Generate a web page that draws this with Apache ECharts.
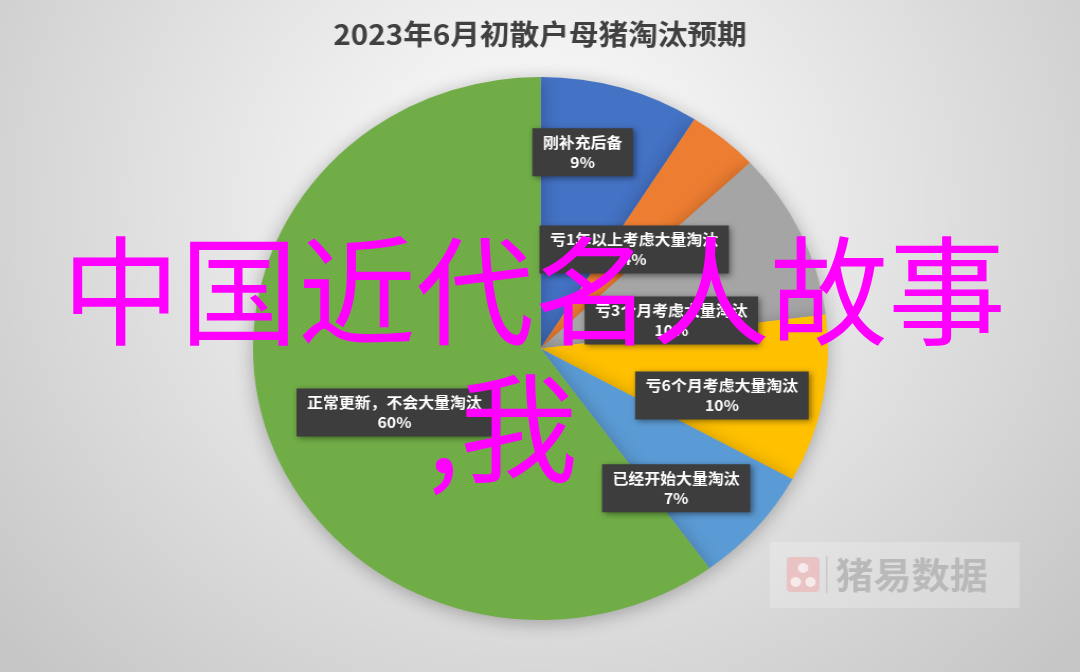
<!DOCTYPE html>
<html>
<head>
<meta charset="utf-8">
<style>
html,body{margin:0;padding:0;background:#fff;overflow:hidden;}
#wrap{position:relative;width:1080px;height:672px;overflow:hidden;}
#chart{position:absolute;left:0;top:0;width:1020px;height:672px;transform:scaleX(1.0588);transform-origin:0 0;}
#overlay{position:absolute;left:0;top:0;width:1080px;height:672px;pointer-events:none;}
</style>
<script src="https://cdn.jsdelivr.net/npm/echarts@6/dist/echarts.min.js"></script>
</head>
<body>
<div id="wrap"><div id="chart"></div><div id="overlay"></div></div>
<script>
// ---- data ----
var titleText = '2023年6月初散户母猪淘汰预期';
var categories = ['刚补充后备', '亏1年以上考虑大量淘汰', '亏3个月考虑大量淘汰', '亏6个月考虑大量淘汰', '已经开始大量淘汰', '正常更新，不会大量淘汰'];
var values = [9, 4, 10, 10, 7, 60];
var overlayLine1 = '中国近代名人故事';
var overlayLine2 = ',我';
var watermarkText = '猪易数据';

// ---- style / layout ----
var colors = ['#4472C4', '#ED7D31', '#A5A5A5', '#FFC000', '#5B9BD5', '#70AD47'];
var labelShift = [[1, -63], [0, 8], [-2, 31], [35, 21], [24, 48], [-6, 21]];

var chart = echarts.init(document.getElementById('chart'));
chart.setOption({
  backgroundColor: new echarts.graphic.RadialGradient(0.5, 0.3, 1.0, [
    {offset: 0, color: '#ffffff'},
    {offset: 0.45, color: '#e6e6e6'},
    {offset: 1, color: '#c6c6c6'}
  ]),
  title: {
    text: titleText,
    left: 'center',
    top: 15,
    textStyle: {fontSize: 28, fontWeight: 'bold', color: '#404040', fontFamily: 'Noto Sans CJK SC'}
  },
  graphic: [
    {type: 'rect', z: 1, shape: {x: 727, y: 542, width: 236, height: 66}, style: {fill: 'rgba(255,255,255,0.22)'}},
    {type: 'rect', z: 2, shape: {x: 743, y: 557, width: 31, height: 35, r: 4}, style: {fill: '#e9c3c3'}},
    {type: 'circle', z: 3, shape: {cx: 758.5, cy: 568, r: 5}, style: {fill: '#f6eaea'}},
    {type: 'circle', z: 3, shape: {cx: 751.5, cy: 582, r: 5}, style: {fill: '#f6eaea'}},
    {type: 'circle', z: 3, shape: {cx: 765.5, cy: 582, r: 5}, style: {fill: '#f6eaea'}},
    {type: 'rect', z: 2, shape: {x: 780, y: 556, width: 1.5, height: 37}, style: {fill: '#c9c9c9'}},
    {type: 'text', z: 2, style: {text: watermarkText, x: 789, y: 575, textVerticalAlign: 'middle', fontSize: 36, fontWeight: 'bold', fill: '#b9b9b9', fontFamily: 'Noto Sans CJK SC'}}
  ],
  series: [{
    type: 'pie',
    center: [510.5, 348.5],
    radius: [0, 271.5],
    startAngle: 90,
    clockwise: true,
    animation: false,
    z: 5,
    itemStyle: {
      shadowBlur: 18,
      shadowColor: 'rgba(0,0,0,0.28)',
      shadowOffsetY: 3
    },
    emphasis: {disabled: true},
    label: {
      position: 'inside',
      formatter: function (p) { return p.name + '\n' + p.value + '%'; },
      color: '#ffffff',
      fontWeight: 'bold',
      fontSize: 15,
      lineHeight: 20,
      fontFamily: 'Noto Sans CJK SC',
      backgroundColor: '#3d3d3d',
      padding: [4, 10, 4, 10],
      shadowBlur: 6,
      shadowColor: 'rgba(0,0,0,0.45)',
      shadowOffsetX: 2,
      shadowOffsetY: 2,
      align: 'center'
    },
    labelLine: {show: false},
    labelLayout: function (p) {
      var s = labelShift[p.dataIndex];
      return {dx: s[0], dy: s[1]};
    },
    data: categories.map(function (c, i) {
      return {name: c, value: values[i], itemStyle: {color: colors[i]}};
    })
  }]
});

var overlay = echarts.init(document.getElementById('overlay'));
overlay.setOption({
  backgroundColor: 'transparent',
  graphic: [
    {type: 'text', z: 100, style: {text: overlayLine1, x: 62, y: 291, textVerticalAlign: 'middle', fontSize: 118, fill: '#ff00ff', fontFamily: 'Noto Sans CJK SC'}},
    {type: 'text', z: 100, style: {text: overlayLine2, x: 427, y: 428, textVerticalAlign: 'middle', fontSize: 118, fill: '#ff00ff', fontFamily: 'Noto Sans CJK SC'}}
  ]
});
</script>
</body>
</html>
